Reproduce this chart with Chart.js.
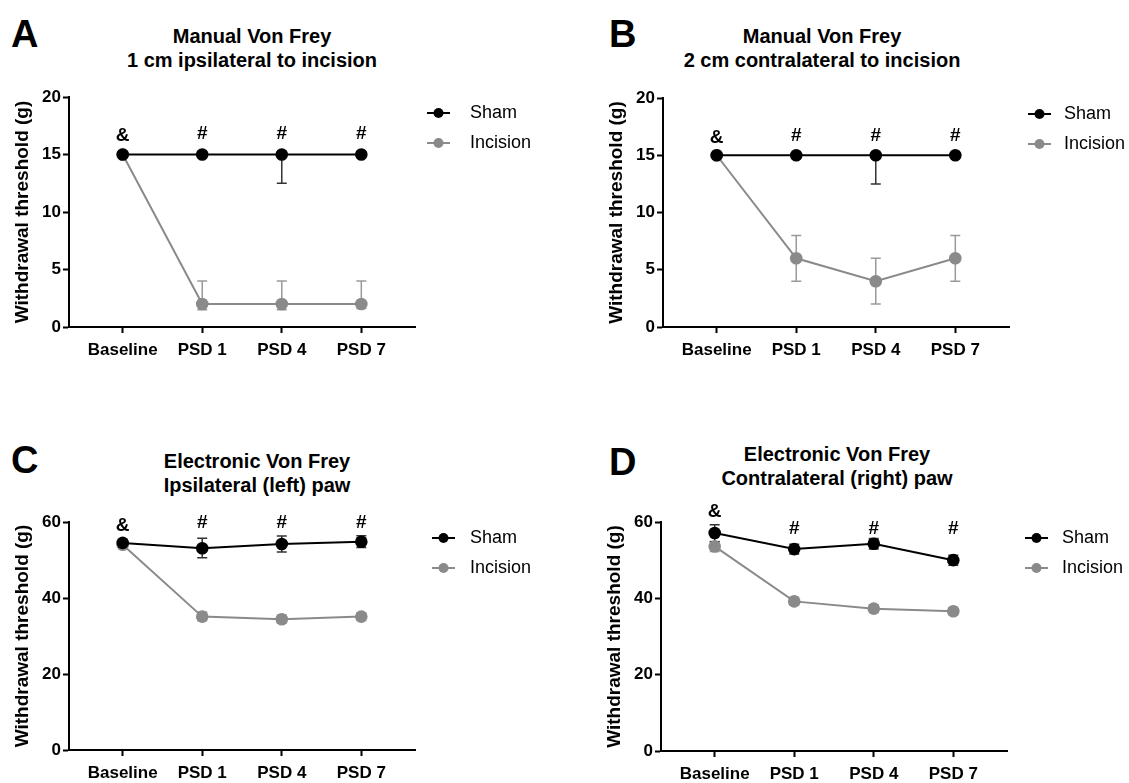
<!DOCTYPE html>
<html>
<head>
<meta charset="utf-8">
<script src="https://cdn.jsdelivr.net/npm/chart.js@4"></script>
<style>
  body { margin: 0; background: #fff; width: 1129px; height: 783px; overflow: hidden; position: relative; font-family: 'Liberation Sans', Arial, sans-serif; }
  canvas { position: absolute; }
  .letter { position: absolute; font-weight: bold; font-size: 38px; line-height: 38px; color: #000; }
  .title { position: absolute; width: 420px; text-align: center; font-weight: bold; font-size: 20px; line-height: 24px; color: #000; }
</style>
</head>
<body>
<div class="letter" style="left:11px; top:15px;">A</div>
<div class="letter" style="left:609px; top:15px;">B</div>
<div class="letter" style="left:11px; top:441px;">C</div>
<div class="letter" style="left:609px; top:443px;">D</div>
<div class="title" style="left:42px; top:24px;">Manual Von Frey<br>1 cm ipsilateral to incision</div>
<div class="title" style="left:612px; top:24px;">Manual Von Frey<br>2 cm contralateral to incision</div>
<div class="title" style="left:47px; top:449px;">Electronic Von Frey<br>Ipsilateral (left) paw</div>
<div class="title" style="left:627px; top:442px;">Electronic Von Frey<br>Contralateral (right) paw</div>
<canvas id="chartA" width="564" height="300" style="left:0px; top:70px;"></canvas>
<canvas id="chartB" width="535" height="300" style="left:594px; top:70px;"></canvas>
<canvas id="chartC" width="564" height="288" style="left:0px; top:495px;"></canvas>
<canvas id="chartD" width="537" height="288" style="left:592px; top:495px;"></canvas>
<script>
// categories and series
const categories = ['Baseline', 'PSD 1', 'PSD 4', 'PSD 7'];
const seriesNames = ['Sham', 'Incision'];
const markLabels = ['&', '#', '#', '#'];

// A - manual von frey, 1 cm ipsilateral
const shamA = [15, 15, 15, 15];
const shamA_lo = [15, 15, 12.5, 15];
const shamA_hi = [15, 15, 15, 15];
const incA = [15, 2, 2, 2];
const incA_lo = [15, 1.5, 1.5, 1.6];
const incA_hi = [15, 4, 4, 4];
const markA = [16.6, 16.8, 16.8, 16.8];

// B - manual von frey, 2 cm contralateral
const shamB = [15, 15, 15, 15];
const shamB_lo = [15, 15, 12.5, 15];
const shamB_hi = [15, 15, 15, 15];
const incB = [15, 6, 4, 6];
const incB_lo = [15, 4, 2, 4];
const incB_hi = [15, 8, 6, 8];
const markB = [16.5, 16.7, 16.7, 16.7];

// C - electronic von frey, ipsilateral paw
const shamC = [54.5, 53.1, 54.2, 54.8];
const shamC_lo = [53.5, 50.6, 52.1, 53.3];
const shamC_hi = [55.4, 55.7, 56.3, 56.4];
const incC = [54.0, 35.1, 34.4, 35.1];
const incC_lo = [53.2, 34.0, 33.4, 34.1];
const incC_hi = [54.8, 36.3, 35.5, 36.1];
const markC = [58.9, 59.7, 59.7, 59.7];

// D - electronic von frey, contralateral paw
const shamD = [57.1, 52.9, 54.3, 50.0];
const shamD_lo = [54.8, 51.6, 52.9, 48.7];
const shamD_hi = [59.3, 54.2, 55.7, 51.3];
const incD = [53.6, 39.2, 37.3, 36.6];
const incD_lo = [52.3, 38.2, 36.3, 35.7];
const incD_hi = [54.9, 40.3, 38.3, 37.6];
const markD = [62.7, 58.3, 58.3, 58.3];

const FONT = "'Liberation Sans', Arial, sans-serif";
const SHAM_COLOR = '#000000';
const INC_COLOR = '#8a8a8a';

// legend icon: short line with a dot
function legendIcon(color, offset) {
    const c = document.createElement('canvas');
    c.width = 34; c.height = 14;
    const ctx = c.getContext('2d');
    ctx.strokeStyle = color;
    ctx.lineWidth = 2;
    ctx.beginPath();
    ctx.moveTo(offset, 7);
    ctx.lineTo(offset + 23, 7);
    ctx.stroke();
    ctx.fillStyle = color;
    ctx.beginPath();
    ctx.arc(offset + 11.5, 7, 5, 0, Math.PI * 2);
    ctx.fill();
    return c;
}

// error bars drawn under the points
const errorBars = {
    id: 'errorBars',
    beforeDatasetsDraw(chart) {
        const ctx = chart.ctx;
        const y = chart.scales.y;
        for (let d = chart.data.datasets.length - 1; d >= 0; d--) {
            const ds = chart.data.datasets[d];
            const meta = chart.getDatasetMeta(d);
            ctx.save();
            ctx.strokeStyle = ds.errColor;
            ctx.lineWidth = 1.5;
            meta.data.forEach((pt, i) => {
                const yl = y.getPixelForValue(ds.lo[i]);
                const yh = y.getPixelForValue(ds.hi[i]);
                ctx.beginPath();
                ctx.moveTo(pt.x, yl); ctx.lineTo(pt.x, yh);
                ctx.moveTo(pt.x - 5, yl); ctx.lineTo(pt.x + 5, yl);
                ctx.moveTo(pt.x - 5, yh); ctx.lineTo(pt.x + 5, yh);
                ctx.stroke();
            });
            ctx.restore();
        }
    }
};

// significance marks above the sham points
const marks = {
    id: 'marks',
    afterDatasetsDraw(chart) {
        const ctx = chart.ctx;
        const opts = chart.options.plugins.marks;
        ctx.save();
        ctx.fillStyle = '#000';
        ctx.font = 'bold 19px ' + FONT;
        ctx.textAlign = 'center';
        ctx.textBaseline = 'middle';
        opts.labels.forEach((t, i) => {
            ctx.fillText(t, chart.scales.x.getPixelForValue(i), chart.scales.y.getPixelForValue(opts.y[i]));
        });
        ctx.restore();
    }
};

// fixed legend box to the right of the plot
const legendPlace = {
    id: 'legendPlace',
    beforeLayout(chart) {
        const lg = chart.legend;
        if (lg && !lg._fixed) {
            const fit = lg.fit.bind(lg);
            lg.fit = function () { fit(); this.width = chart.options.plugins.legendPlace.width; };
            lg._fixed = true;
        }
    },
    afterLayout(chart) {
        const o = chart.options.plugins.legendPlace;
        chart.legend.top = chart.chartArea.top + o.dy;
        chart.legend.left = chart.chartArea.right;
    }
};

function createGraph(id, p) {
    const ctx = document.getElementById(id).getContext('2d');
    const toXY = arr => arr.map((v, i) => ({ x: i, y: v }));
    return new Chart(ctx, {
        type: 'line',
        data: {
            datasets: [{
                label: seriesNames[0],
                data: toXY(p.sham),
                lo: p.shamLo, hi: p.shamHi,
                errColor: '#333333',
                borderColor: SHAM_COLOR,
                backgroundColor: SHAM_COLOR,
                pointBackgroundColor: SHAM_COLOR,
                pointBorderColor: SHAM_COLOR,
                borderWidth: 2,
                pointRadius: 6.3,
                pointBorderWidth: 0,
                tension: 0
            }, {
                label: seriesNames[1],
                data: toXY(p.inc),
                lo: p.incLo, hi: p.incHi,
                errColor: '#9a9a9a',
                borderColor: INC_COLOR,
                backgroundColor: INC_COLOR,
                pointBackgroundColor: INC_COLOR,
                pointBorderColor: INC_COLOR,
                borderWidth: 2,
                pointRadius: 6.3,
                pointBorderWidth: 0,
                tension: 0
            }]
        },
        options: {
            responsive: false,
            animation: false,
            devicePixelRatio: 1,
            layout: { padding: { top: p.padTop, left: 0, right: 0, bottom: 0 } },
            scales: {
                x: {
                    type: 'linear',
                    min: -0.675,
                    max: 3.675,
                    afterBuildTicks: s => { s.ticks = categories.map((c, i) => ({ value: i })); },
                    afterFit: s => { s.height = p.xHeight; },
                    ticks: {
                        callback: v => categories[v],
                        color: '#000',
                        font: { family: FONT, size: 17, weight: 'bold' },
                        padding: 7,
                        maxRotation: 0,
                        autoSkip: false
                    },
                    grid: { drawOnChartArea: false, tickLength: 6, tickWidth: 2, tickColor: '#000' },
                    border: { color: '#000', width: 2 }
                },
                y: {
                    min: 0,
                    max: p.yMax,
                    afterFit: s => { s.width = 69; },
                    ticks: {
                        stepSize: p.yStep,
                        color: '#000',
                        font: { family: FONT, size: 17, weight: 'bold' },
                        padding: 2
                    },
                    grid: { drawOnChartArea: false, tickLength: 6, tickWidth: 2, tickColor: '#000' },
                    border: { color: '#000', width: 2 },
                    title: {
                        display: true,
                        text: 'Withdrawal threshold (g)',
                        color: '#000',
                        font: { family: FONT, size: 19, weight: 'bold' },
                        padding: { top: 11, bottom: 0 }
                    }
                }
            },
            plugins: {
                legend: {
                    position: 'right',
                    align: 'start',
                    labels: {
                        usePointStyle: true,
                        pointStyleWidth: 34,
                        padding: 12,
                        color: '#000',
                        font: { family: FONT, size: 18 },
                        generateLabels: chart => chart.data.datasets.map((ds, i) => ({
                            text: ds.label,
                            pointStyle: legendIcon(ds.borderColor, p.iconOffset),
                            datasetIndex: i,
                            hidden: false,
                            fillStyle: ds.borderColor,
                            strokeStyle: ds.borderColor,
                            lineWidth: 0,
                            fontColor: '#000'
                        }))
                    }
                },
                tooltip: { enabled: false },
                marks: { labels: markLabels, y: p.marks },
                legendPlace: { width: p.legendWidth, dy: -5 }
            }
        },
        plugins: [errorBars, marks, legendPlace]
    });
}

window.onload = function () {
    createGraph('chartA', { sham: shamA, shamLo: shamA_lo, shamHi: shamA_hi, inc: incA, incLo: incA_lo, incHi: incA_hi, marks: markA,
        yMax: 20, yStep: 5, padTop: 27, xHeight: 43, legendWidth: 149, iconOffset: 0 });
    createGraph('chartB', { sham: shamB, shamLo: shamB_lo, shamHi: shamB_hi, inc: incB, incLo: incB_lo, incHi: incB_hi, marks: markB,
        yMax: 20, yStep: 5, padTop: 28, xHeight: 43, legendWidth: 120, iconOffset: 7 });
    createGraph('chartC', { sham: shamC, shamLo: shamC_lo, shamHi: shamC_hi, inc: incC, incLo: incC_lo, incHi: incC_hi, marks: markC,
        yMax: 60, yStep: 20, padTop: 27, xHeight: 33, legendWidth: 149, iconOffset: 5 });
    createGraph('chartD', { sham: shamD, shamLo: shamD_lo, shamHi: shamD_hi, inc: incD, incLo: incD_lo, incHi: incD_hi, marks: markD,
        yMax: 60, yStep: 20, padTop: 27, xHeight: 32, legendWidth: 122, iconOffset: 6 });
};
</script>
</body>
</html>
